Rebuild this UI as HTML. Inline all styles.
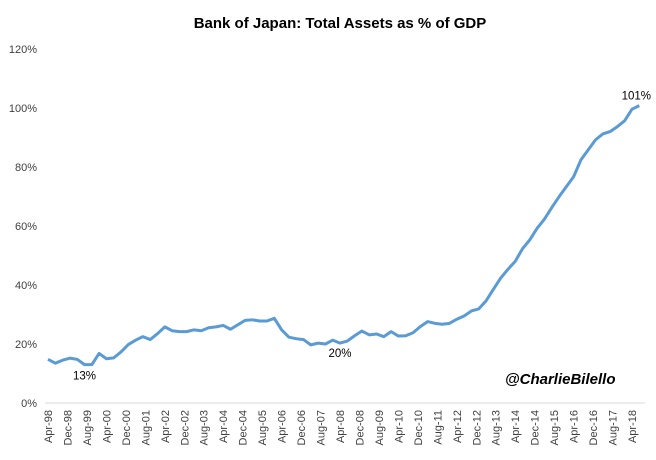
<!DOCTYPE html>
<html><head><meta charset="utf-8"><style>
body{margin:0;background:#fff;font-family:"Liberation Sans",sans-serif;}
svg text{font-family:"Liberation Sans",sans-serif;}
</style></head><body>
<svg id="c" width="656" height="455">
<text x="340" y="28" text-anchor="middle" font-size="15" font-weight="bold" fill="#000">Bank of Japan: Total Assets as % of GDP</text>
<text x="505" y="384" font-size="15" font-weight="bold" font-style="italic" fill="#000">@CharlieBilello</text>
</svg>
<script>
const values=[14.8,13.5,14.5,15.2,14.8,13.0,13.0,16.8,15.0,15.3,17.3,19.8,21.3,22.5,21.5,23.5,25.8,24.5,24.2,24.2,24.8,24.5,25.5,25.8,26.3,25.0,26.5,28.0,28.2,27.8,27.8,28.7,24.8,22.3,21.8,21.5,19.7,20.3,20.0,21.3,20.3,21.0,22.8,24.4,23.1,23.4,22.5,24.2,22.7,22.8,23.8,25.9,27.6,27.0,26.7,27.0,28.4,29.5,31.2,31.9,34.6,38.5,42.3,45.3,48.0,52.3,55.3,59.2,62.3,66.2,69.9,73.3,76.7,82.4,85.8,89.2,91.2,92.0,93.7,95.7,99.6,100.8];
const yTicks=[0,20,40,60,80,100,120];
const xLabels=["Apr-98","Dec-98","Aug-99","Apr-00","Dec-00","Aug-01","Apr-02","Dec-02","Aug-03","Apr-04","Dec-04","Aug-05","Apr-06","Dec-06","Aug-07","Apr-08","Dec-08","Aug-09","Apr-10","Dec-10","Aug-11","Apr-12","Dec-12","Aug-13","Apr-14","Dec-14","Aug-15","Apr-16","Dec-16","Aug-17","Apr-18"];
const annotations=[{i:5,t:"13%",dx:0,dy:15},{i:40,t:"20%",dx:0,dy:14},{i:81,t:"101%",dx:-3,dy:-6}];
const NS="http://www.w3.org/2000/svg",svg=document.getElementById('c');
const x0=48,step=7.3,yb=403,pxPer=59/20;
const X=i=>x0+i*step, Y=v=>yb-v*pxPer;
function mk(t,a){const e=document.createElementNS(NS,t);for(const k in a)e.setAttribute(k,a[k]);svg.appendChild(e);return e;}
const base=mk('line',{x1:45,x2:645,y1:yb,y2:yb,stroke:'#d9d9d9','stroke-width':1});


yTicks.forEach(v=>{const t=mk('text',{x:37,y:Y(v)+4,'text-anchor':'end','font-size':11,fill:'#404040'});t.textContent=v+'%';

});
xLabels.forEach((l,k)=>{const x=X(k*8/3)+4;const t=mk('text',{x:0,y:0,transform:`translate(${x},410) rotate(-90)`,'text-anchor':'end','font-size':11,fill:'#404040'});t.textContent=l;

});
const p=mk('polyline',{points:values.map((v,i)=>X(i)+','+Y(v)).join(' '),fill:'none',stroke:'#5b9bd5','stroke-width':3,'stroke-linejoin':'round'});


annotations.forEach(a=>{const t=mk('text',{x:X(a.i)+a.dx,y:Y(values[a.i])+a.dy,'text-anchor':'middle','font-size':11.5,fill:'#000'});t.textContent=a.t;

});
</script>
</body></html>
